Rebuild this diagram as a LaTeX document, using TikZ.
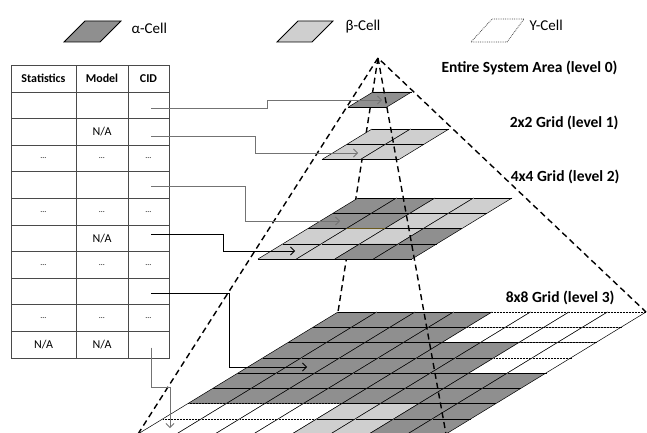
\documentclass[tikz,border=0pt]{standalone}
\usepackage{fontspec}
\setmainfont{Carlito}
\usetikzlibrary{arrows.meta,calc}
\definecolor{alphagray}{HTML}{8F8F8F}
\definecolor{betagray}{HTML}{CFCFCF}
\definecolor{tableline}{HTML}{4A4A4A}
\definecolor{linkgray}{HTML}{737373}
\definecolor{gridolive}{HTML}{6B5A1E}

\begin{document}
\begin{tikzpicture}[x=1pt,y=-1pt,
  cell a/.style={fill=alphagray},
  cell b/.style={fill=betagray},
  cell g/.style={fill=white},
  edge a/.style={draw=black,line width=0.5pt},
  edge b/.style={draw=black,line width=0.5pt},
  edge g/.style={draw=black,line width=0.5pt,densely dotted},
  gline/.style={draw=black,line width=0.5pt},
  pyr/.style={dash pattern=on 6pt off 4pt,line width=1.4pt},
  link/.style={-{Straight Barb[length=4pt,width=8pt]},line width=0.8pt},
  tcell/.style={draw=tableline,line width=0.7pt,minimum height=26.6pt,inner sep=0pt,
                font=\fontsize{12}{14}\selectfont},
  thead/.style={tcell,minimum height=27pt,font=\fontsize{12}{14}\selectfont\bfseries},
  lvl/.style={anchor=east,font=\fontsize{15.5}{18}\selectfont\bfseries},
  legend/.style={anchor=west,font=\fontsize{15}{18}\selectfont}
]
\def\cw{38.5}\def\rh{15.25}\def\sh{25}
\def\na{N/A}\def\dd{{\fontsize{8}{9}\selectfont …}}

%--- canvas ---
\fill[white] (0,0) rectangle (647,433);
\useasboundingbox (0,0) rectangle (647,433);
\clip (0,0) rectangle (647,433);

% ---- LEGEND ----
\draw[cell a,line width=0.8pt] (64,42) -- (100,42) -- (121,21) -- (85,21) -- cycle;
\node[legend] (lga) at (128,28) {α-Cell};
\draw[cell b,line width=0.8pt] (277,42) -- (312,42) -- (333,21) -- (298,21) -- cycle;
\node[legend] (lgb) at (342,27) {β-Cell};
\draw[black!70,densely dotted,line width=0.8pt] (471,42) -- (507,42) -- (524,19) -- (492,19) -- cycle;
\node[legend] (lgg) at (526,25) {Υ-Cell};

% ---- PYRAMID CORNERS ----
\coordinate (apex)   at (378,58);
\coordinate (baseTL) at (338,312);
\coordinate (baseTR) at ({338+8*\cw},312);
\coordinate (baseBL) at ({338-8*\sh},{312+8*\rh});
\coordinate (baseBR) at ({338+8*\cw-8*\sh},{312+8*\rh});
\draw[pyr] (apex) -- (baseTL); % hidden edge, behind the grids

% ---- GRIDS (level 0 to 3) ----
\foreach \gx/\gy/\rows in {373/92/{{a}},
    372/129/{{b,b},{b,b}},
    358/198/{{a,a,b,b},{a,a,b,b},{b,b,b,a},{b,b,a,a}},
    338/312/{{a,a,a,a,g,g,g,g},{a,a,a,a,g,g,g,g},{a,a,a,a,a,a,g,g},{a,a,a,a,a,a,g,g},
             {a,a,a,a,a,a,a,a},{a,a,a,a,a,a,a,a},{g,g,g,g,b,b,a,a},{g,g,g,g,b,b,a,a}}}
  \foreach \row [count=\gr from 0] in \rows
    \foreach \kind [count=\gc from 0] in \row {
      \coordinate (p) at ({\gx+\gc*\cw-\gr*\sh},{\gy+\gr*\rh});
      \fill[cell \kind] (p) -- ++(\cw,0) -- ++(-\sh,\rh) -- ++(-\cw,0) -- cycle;
      \draw[edge \kind] (p) -- ++(\cw,0) ++(-\sh,\rh) -- ++(-\cw,0);
      \draw[gline] (p) -- ++(-\sh,\rh) ++(\cw,0) -- ++(\sh,-\rh);
    }
\draw[gridolive,line width=0.8pt] ({358+\cw-2*\sh},{198+2*\rh}) -- ++(\cw,0);

% ---- PYRAMID EDGES ----
\draw[pyr] (baseBL) -- (apex) -- (baseTR);
\draw[pyr] (apex) -- (baseBR);

% ---- LEVEL LABELS ----
\node[lvl] (lab0) at (621,68)  {Entire System Area (level 0)};
\node[lvl] (lab1) at (622,123) {2x2 Grid (level 1)};
\node[lvl] (lab2) at (623,177) {4x4 Grid (level 2)};
\node[lvl] (lab3) at (618,298) {8x8 Grid (level 3)};

% ---- TABLE ----
\node[thead,minimum width=65pt] (hstat)  at (43.5,78.5)  {Statistics};
\node[thead,minimum width=52pt] (hmodel) at (102,78.5)   {Model};
\node[thead,minimum width=41pt] (hcid)   at (148.5,78.5) {CID};
\foreach \st/\mo/\ci [count=\i] in {{}/{}/{}, {}/\na/{}, \dd/\dd/\dd, {}/{}/{}, \dd/\dd/\dd,
                                    {}/\na/{}, \dd/\dd/\dd, {}/{}/{}, \dd/\dd/\dd, \na/\na/{}} {
  \node[tcell,minimum width=65pt] (stat\i)  at (43.5,{92+26.6*(\i-0.5)})  {\st};
  \node[tcell,minimum width=52pt] (model\i) at (102,{92+26.6*(\i-0.5)})   {\mo};
  \node[tcell,minimum width=41pt] (cid\i)   at (148.5,{92+26.6*(\i-0.5)}) {\ci};
}

% ---- CID LINKS ----
\coordinate (t0)  at (382,100);
\coordinate (t1)  at (358,153);
\coordinate (t2a) at (340,221);
\coordinate (t2b) at (295,251);
\coordinate (t3a) at (307,367);
\coordinate (t3b) at (170,428);
\foreach \r/\dy/\dx/\t/\col in {1/3.5/116/t0/linkgray, 2/4/104/t1/linkgray, 4/1/94/t2a/linkgray,
                                6/-3.5/72/t2b/black, 8/1.5/78/t3a/black}
  \draw[link,\col] ($(cid\r.center)+(2.5,\dy)$) -- ++(\dx,0) |- (\t);
\draw[link,linkgray] ($(cid10.center)+(2.5,3)$) -- ++(0,40) -| (t3b);

\end{tikzpicture}
\end{document}
